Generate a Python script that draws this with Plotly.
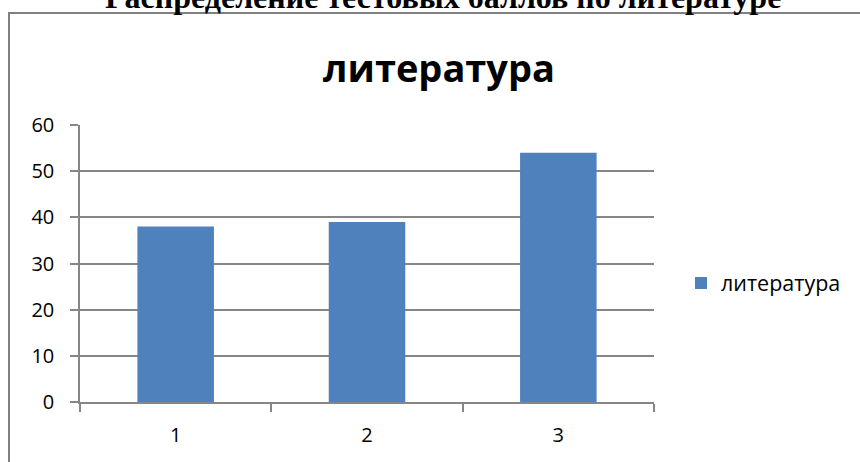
import plotly.graph_objects as go

categories = ["1", "2", "3"]
values = [38, 39, 54]
series_name = "литература"
doc_title = "Распределение тестовых баллов по литературе"
chart_title = "литература"
y_ticks = [0, 10, 20, 30, 40, 50, 60]

W, H = 860, 462
L, R, T, B = 80, 654, 125, 402

def px_x(px):
    return (px - L) / (R - L)

def px_y(py):
    return (B - py) / (B - T)

fig = go.Figure()
fig.add_trace(go.Bar(
    x=categories, y=values, name=series_name,
    marker=dict(color="#4F81BD", line=dict(width=0)),
    showlegend=True,
))

grid = "#868686"
font = "Open Sans, Noto Sans, DejaVu Sans, sans-serif"

fig.update_layout(
    width=W, height=H,
    margin=dict(l=L, r=W - R, t=T, b=H - B, pad=0),
    paper_bgcolor="white", plot_bgcolor="white",
    bargap=0.6,
    showlegend=True,
    legend=dict(x=px_x(681), y=px_y(283), xanchor="left", yanchor="middle",
                font=dict(family=font, size=21.5, color="#000000"),
                bgcolor="rgba(0,0,0,0)", itemwidth=30),
    xaxis=dict(type="category", tickson="boundaries", ticks="outside", ticklen=8,
               tickcolor=grid, tickwidth=1.5, showline=True, linecolor=grid, linewidth=1.5,
               showgrid=False, tickfont=dict(family=font, size=20, color="#000000"),
               ticklabelstandoff=14),
    yaxis=dict(range=[0, 60], tickvals=y_ticks, ticks="outside", ticklen=8,
               tickcolor=grid, tickwidth=1.5, showline=True, linecolor=grid, linewidth=1.5,
               showgrid=True, gridcolor=grid, gridwidth=1.5, zeroline=False,
               tickfont=dict(family=font, size=20, color="#000000"),
               ticklabelstandoff=12),
    annotations=[
        dict(text="<b>" + chart_title + "</b>", x=px_x(439), y=px_y(67),
             xref="paper", yref="paper", xanchor="center", yanchor="middle",
             showarrow=False, font=dict(family=font, size=38, color="#000000")),
        dict(text="<b>" + doc_title + "</b>", x=px_x(443), y=px_y(-3),
             xref="paper", yref="paper", xanchor="center", yanchor="middle",
             showarrow=False,
             font=dict(family="Liberation Serif, Times New Roman, serif", size=32, color="#000000")),
    ],
    shapes=[
        dict(type="line", xref="paper", yref="paper", x0=px_x(9), x1=px_x(9),
             y0=px_y(12.5), y1=px_y(480), line=dict(color="#808080", width=2)),
        dict(type="line", xref="paper", yref="paper", x0=px_x(8), x1=px_x(880),
             y0=px_y(13), y1=px_y(13), line=dict(color="#808080", width=2)),
    ],
)

fig.write_html("out.html", config={"displayModeBar": False},
               post_script="document.body.style.margin='0';")
